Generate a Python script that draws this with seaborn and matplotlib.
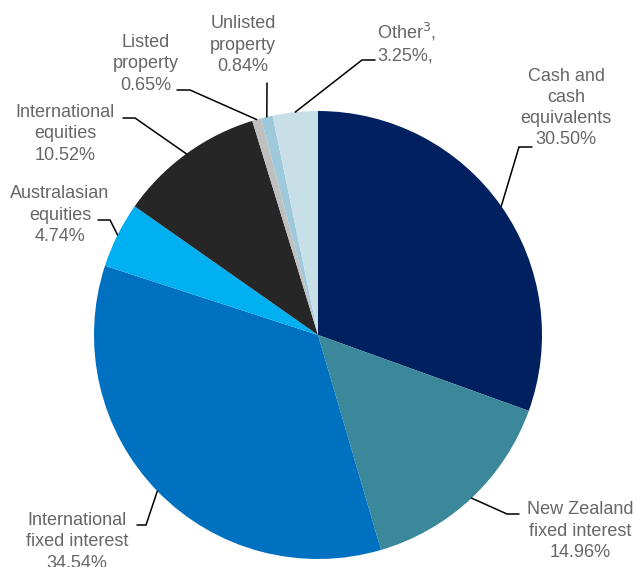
import numpy as np
import matplotlib
matplotlib.use("Agg")
import matplotlib.pyplot as plt
import seaborn as sns

# asset allocation (percent)
categories = ["Cash and\ncash\nequivalents", "New Zealand\nfixed interest",
              "International\nfixed interest", "Australasian\nequities",
              "International\nequities", "Listed\nproperty",
              "Unlisted\nproperty", "Other$^3$,"]
shares = [30.50, 14.96, 34.54, 4.74, 10.52, 0.65, 0.84, 3.25]
value_labels = ["30.50%", "14.96%", "34.54%", "4.74%", "10.52%", "0.65%", "0.84%", "3.25%,"]
colors = ["#002060", "#3A8899", "#0070C0", "#00B0F0", "#262626",
          "#BFBFBF", "#9DC9DB", "#C9DFE8"]

sns.set_style("white")
plt.rcParams['font.family'] = ['Liberation Sans', 'DejaVu Sans']

W, H = 637, 567
CX, CY, R = 318, 335, 224


def px(x, y):
    # pixel position -> data units (pie radius = 1)
    return (x - CX) / R, (CY - y) / R


# label layout in pixels: text centre, elbow start, elbow end, alignment
layout = [
    ((566, 108), (532, 147), (519, 147), "center"),
    ((580, 531), (519, 514), (507, 514), "center"),
    ((77, 542), (137, 525), (146, 525), "center"),
    ((60, 215), (98, 220), (110, 220), "center"),
    ((65, 134), (123, 118), (135, 118), "center"),
    ((146, 64), (177, 90), (190, 90), "center"),
    ((243, 45), (267, 83), (267, 83), "center"),
    ((377, 43), (375, 60), (362, 60), "left"),
]

fig = plt.figure(figsize=(W / 100, H / 100), dpi=100)
ax = fig.add_axes([0, 0, 1, 1])
wedges, _ = ax.pie(shares, colors=colors, startangle=90, counterclock=False,
                   radius=1, center=(0, 0),
                   wedgeprops=dict(linewidth=0))
ax.set_xlim(-CX / R, (W - CX) / R)
ax.set_ylim((CY - H) / R, CY / R)
ax.set_aspect('auto')
ax.axis('off')

for w, cat, val, (tpos, e1, e2, ha) in zip(wedges, categories, value_labels, layout):
    mid = np.deg2rad((w.theta1 + w.theta2) / 2)
    ex, ey = np.cos(mid), np.sin(mid)
    x1, y1 = px(*e1)
    x2, y2 = px(*e2)
    ax.plot([x1, x2, ex], [y1, y2, ey], color="black", lw=1.1,
            solid_joinstyle="miter", zorder=1)
    tx, ty = px(*tpos)
    ax.text(tx, ty, cat + "\n" + val, ha=ha, va="center", fontsize=13,
            color="#666666", linespacing=1.32,
            multialignment="center" if ha == "center" else "left")

fig.savefig("out.png", dpi=100)
